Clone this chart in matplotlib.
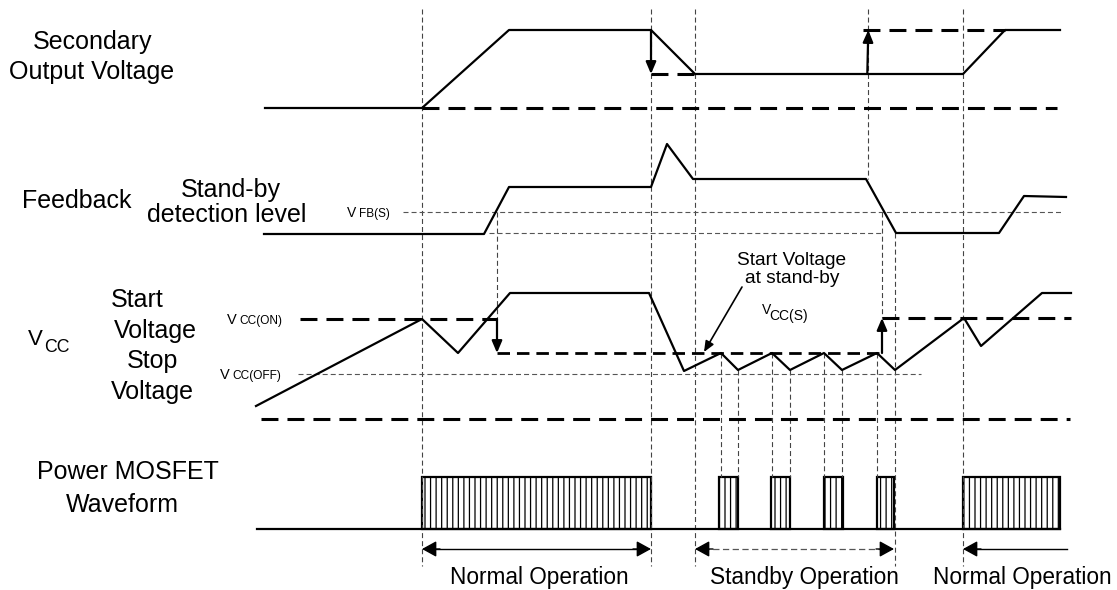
import matplotlib
matplotlib.use('Agg')
import matplotlib.pyplot as plt
from matplotlib.patches import Rectangle

plt.rcParams['font.family'] = ['Liberation Sans', 'DejaVu Sans']
plt.rcParams['lines.scale_dashes'] = False
plt.rcParams['hatch.linewidth'] = 0.9

# waveform corner points, x = time, y = level (diagram units, y grows down)
secX = [265, 422, 509, 651, 695, 963, 1005, 1060]
secY = [108, 108, 30, 30, 74, 74, 30, 30]
fbX = [264, 484, 509, 651, 667, 693, 866, 896, 999, 1024, 1066]
fbY = [234, 234, 187, 187, 144, 179, 179, 233, 233, 196, 197]
vccX = [256, 422, 458, 510, 649, 684, 721, 738, 772, 790, 824, 842, 877, 895,
        964, 981, 1042, 1071]
vccY = [406, 319, 353, 293, 293, 371, 353, 370, 353, 370, 353, 370, 353, 370,
        318, 346, 293, 293]

# mosfet switching bursts (start, end)
normalBursts = [(422, 651), (963, 1060)]
standbyBursts = [(719, 738), (771, 790), (824, 843), (877, 894)]
pulseTop = 477; pulseBase = 528.5

# levels: (y, x start, x end)
thickLevels = [(108, 422, 1057), (74, 651, 695), (30, 863, 1005),
               (319, 300, 497), (318, 882, 1071), (419, 261, 1070)]
vccsLevel = (353, 497, 882)
thinLevels = [(212, 403, 1063), (233, 489, 882), (374, 298, 921)]

# timing guides: (x, y top, y bottom)
guides = [(422, 9, 566), (651, 9, 566), (695, 9, 566), (868, 9, 179),
          (963, 9, 566), (497, 212, 319), (882, 212, 318), (895, 233, 566),
          (721, 353, 477), (738, 370, 477), (772, 353, 477), (790, 370, 477),
          (824, 353, 477), (842, 370, 477), (877, 353, 477)]

fig = plt.figure(figsize=(11.17, 5.9), dpi=100)
ax = fig.add_axes([0, 0, 1, 1])
ax.set_xlim(0, 1117); ax.set_ylim(590, 0)
ax.axis('off')

thin = (0, (3.6, 2.2))
thick = (0, (12.2, 6.5))

for x, y0, y1 in guides:
    ax.plot([x, x], [y0, y1], color='#444444', lw=0.8, ls=thin)
for y, x0, x1 in thinLevels:
    ax.plot([x0, x1], [y, y], color='#555555', lw=0.8, ls=thin)
for y, x0, x1 in thickLevels:
    ax.plot([x0, x1], [y, y], color='black', lw=2.2, ls=thick)
ax.plot([vccsLevel[1], vccsLevel[2]], [vccsLevel[0]] * 2, color='black', lw=2.0,
        ls=(0, (9, 5)))

ax.plot(secX, secY, color='black', lw=1.6)
ax.plot(fbX, fbY, color='black', lw=1.6)
ax.plot(vccX, vccY, color='black', lw=1.6)

# mosfet gate waveform
ax.plot([257, 1060], [pulseBase, pulseBase], color='black', lw=1.6)
for x0, x1 in normalBursts + standbyBursts:
    ax.add_patch(Rectangle((x0, pulseTop), x1 - x0, pulseBase - pulseTop, fill=False,
                           edgecolor='black', lw=1.6, hatch='|||'))

def arrow(x0, y0, x1, y1, lw=1.6, ms=18, hw=0.17):
    ax.annotate('', xy=(x1, y1), xytext=(x0, y0),
                arrowprops=dict(arrowstyle='-|>,head_length=0.4,head_width=%g' % hw,
                                lw=lw, color='black', shrinkA=0, shrinkB=0,
                                mutation_scale=ms))

# level change arrows
arrow(651, 30, 651, 74)
arrow(867.3, 74, 868.3, 30)
arrow(497, 319, 497, 353)
arrow(882, 353, 882, 318)
arrow(742, 287, 704, 352, lw=1.2, ms=16)

# operation span arrows
ya = 549
ax.plot([430, 643], [ya, ya], color='black', lw=1.0)
arrow(440, ya, 422, ya, lw=1.0, ms=22, hw=0.22)
arrow(633, ya, 651, ya, lw=1.0, ms=22, hw=0.22)
ax.plot([703, 886], [ya, ya], color='#555555', lw=0.9, ls=(0, (4.5, 2.5)))
arrow(713, ya, 695, ya, lw=1.0, ms=22, hw=0.22)
arrow(876, ya, 894, ya, lw=1.0, ms=22, hw=0.22)
ax.plot([975, 1067], [ya, ya], color='black', lw=1.0)
arrow(981, ya, 963, ya, lw=1.0, ms=22, hw=0.22)

# row labels
fs = 18
ax.text(93, 49, 'Secondary', fontsize=fs, ha='center', va='baseline')
ax.text(92, 79, 'Output Voltage', fontsize=fs, ha='center', va='baseline')
ax.text(77, 208, 'Feedback', fontsize=fs, ha='center', va='baseline')
ax.text(231, 197, 'Stand-by', fontsize=fs, ha='center', va='baseline')
ax.text(227, 222, 'detection level', fontsize=fs, ha='center', va='baseline')
ax.text(28, 345, 'V', fontsize=16, ha='left', va='baseline')
ax.text(44, 352, 'CC', fontsize=12.8, ha='left', va='baseline')
ax.text(137, 307, 'Start', fontsize=fs, ha='center', va='baseline')
ax.text(155, 338, 'Voltage', fontsize=fs, ha='center', va='baseline')
ax.text(152, 368, 'Stop', fontsize=fs, ha='center', va='baseline')
ax.text(152, 399, 'Voltage', fontsize=fs, ha='center', va='baseline')
ax.text(128, 479, 'Power MOSFET', fontsize=fs, ha='center', va='baseline')
ax.text(122, 512, 'Waveform', fontsize=fs, ha='center', va='baseline')

# level names
ax.text(347, 217, 'V', fontsize=10, ha='left', va='baseline')
ax.text(359, 217, 'FB(S)', fontsize=8.5, ha='left', va='baseline')
ax.text(227, 324, 'V', fontsize=10.5, ha='left', va='baseline')
ax.text(239, 324, 'CC(ON)', fontsize=8.6, ha='left', va='baseline')
ax.text(220, 379, 'V', fontsize=10.5, ha='left', va='baseline')
ax.text(232, 379, 'CC(OFF)', fontsize=8.6, ha='left', va='baseline')
ax.text(792, 265, 'Start Voltage', fontsize=13.8, ha='center', va='baseline')
ax.text(792, 283, 'at stand-by', fontsize=13.8, ha='center', va='baseline')
ax.text(762, 314, 'V', fontsize=10, ha='left', va='baseline')
ax.text(769, 320, 'CC(S)', fontsize=10, ha='left', va='baseline')

# operation names
ax.text(539, 584, 'Normal Operation', fontsize=16.3, ha='center', va='baseline')
ax.text(804, 584, 'Standby Operation', fontsize=16.3, ha='center', va='baseline')
ax.text(1022, 584, 'Normal Operation', fontsize=16.3, ha='center', va='baseline')

fig.savefig('out.png', dpi=100, facecolor='white')
